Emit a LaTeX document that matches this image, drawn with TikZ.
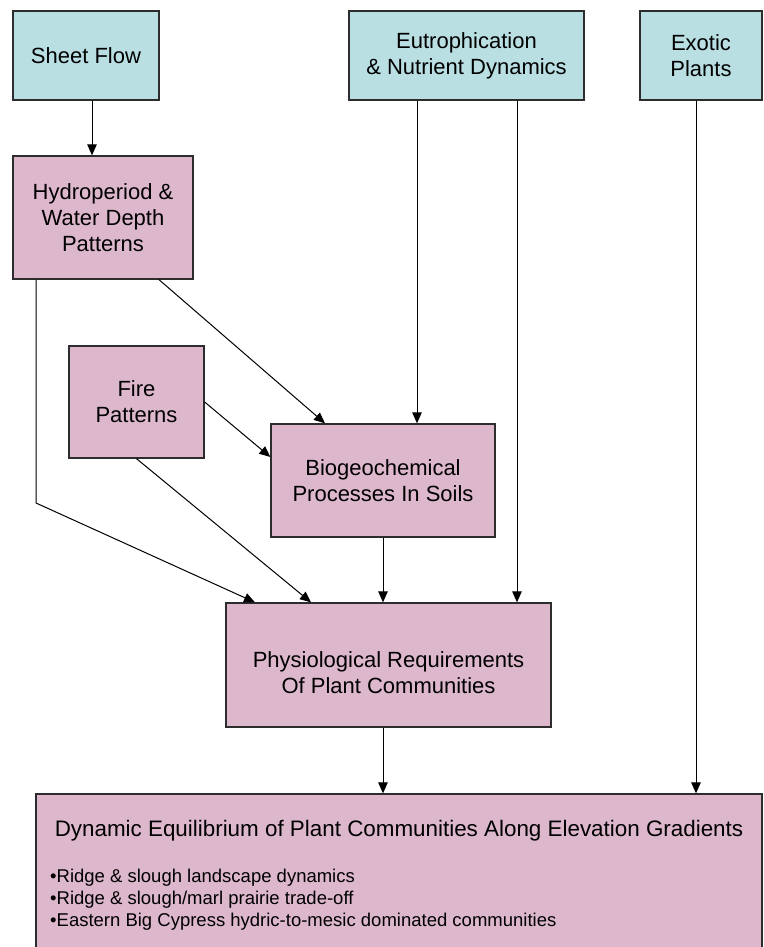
\documentclass[tikz,border=0pt]{standalone}
\usepackage{fontspec}
\setmainfont{Liberation Sans}
\usetikzlibrary{arrows.meta}
\definecolor{cyanbox}{RGB}{185,223,227}
\definecolor{pinkbox}{RGB}{221,183,204}
\definecolor{edgegray}{RGB}{45,45,45}
\begin{document}
\begin{tikzpicture}[x=1pt,y=-1pt,
  box/.style={draw=edgegray, line width=1.3pt, rectangle, inner sep=0pt, align=center,
              font=\fontsize{22}{26}\selectfont},
  srcbox/.style={box, fill=cyanbox},
  procbox/.style={box, fill=pinkbox},
  txt/.style={inner sep=0pt, align=center, font=\fontsize{22}{26}\selectfont},
  arr/.style={draw=black, line width=1pt, -{Triangle[length=11pt,width=9.5pt]}}
]
\useasboundingbox (0,0) rectangle (763,947);

% column coordinates
\coordinate (x36) at (36,0);
\coordinate (x92) at (92,0);
\coordinate (x159) at (159,0);
\coordinate (x255) at (255,0);
\coordinate (x311) at (311,0);
\coordinate (x325) at (325,0);
\coordinate (x383) at (383,0);
\coordinate (x417) at (417,0);
\coordinate (x517) at (517,0);
\coordinate (x696) at (696,0);
\coordinate (y457) at (0,457);

% top row
\node[srcbox, minimum width=146pt, minimum height=89pt] (sheet) at (86,55.5) {Sheet Flow};
\node[srcbox, minimum width=235pt, minimum height=89pt] (eut) at (466.5,55.5) {Eutrophication\\\& Nutrient Dynamics};
\node[srcbox, minimum width=122pt, minimum height=89pt] (exo) at (701,55.5) {Exotic\\Plants};

% process boxes
\node[procbox, minimum width=180pt, minimum height=123pt] (hydro) at (103,217.5) {Hydroperiod \&\\Water Depth\\Patterns};
\node[procbox, minimum width=135pt, minimum height=112pt] (fire) at (136.5,402) {Fire\\Patterns};
\node[procbox, minimum width=224pt, minimum height=113pt] (bio) at (383,480.5) {Biogeochemical\\Processes In Soils};
\node[procbox, minimum width=325pt, minimum height=124pt] (phys) at (388.5,665) {};
\node[txt] (physT) at (388.5,673) {Physiological Requirements\\Of Plant Communities};

% bottom box
\node[procbox, minimum width=726pt, minimum height=186pt] (dyn) at (399,887) {};
\node[inner sep=0pt, anchor=base, font=\fontsize{22.4}{26}\selectfont] (dynT) at (399,836)
  {Dynamic Equilibrium of Plant Communities Along Elevation Gradients};
\node[inner sep=0pt, anchor=base west, font=\fontsize{18.5}{22}\selectfont] (b1) at (50,882)
  {•Ridge \& slough landscape dynamics};
\node[inner sep=0pt, anchor=base west, font=\fontsize{18.5}{22}\selectfont] (b2) at (50,904)
  {•Ridge \& slough/marl prairie trade-off};
\node[inner sep=0pt, anchor=base west, font=\fontsize{18.5}{22}\selectfont] (b3) at (50,926)
  {•Eastern Big Cypress hydric-to-mesic dominated communities};

% connectors
\draw[arr] (sheet.south -| x92) -- (hydro.north -| x92);
\draw[arr] (hydro.south -| x159) -- (bio.north -| x325);
\draw[arr] (eut.south -| x417) -- (bio.north -| x417);
\draw[arr] (eut.south -| x517) -- (phys.north -| x517);
\draw[arr] (exo.south -| x696) -- (dyn.north -| x696);
\draw[arr] (fire.east) -- (bio.west |- y457);
\coordinate (bend) at (36,503);
\draw[arr] (hydro.south -| x36) -- (bend) -- (phys.north -| x255);
\draw[arr] (fire.south) -- (phys.north -| x311);
\draw[arr] (bio.south -| x383) -- (phys.north -| x383);
\draw[arr] (phys.south -| x383) -- (dyn.north -| x383);
\end{tikzpicture}
\end{document}
